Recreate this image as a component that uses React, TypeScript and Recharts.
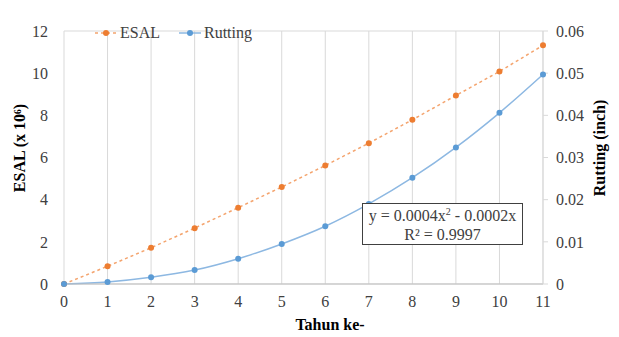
import {
  LineChart,
  Line,
  XAxis,
  YAxis,
  CartesianGrid,
  Legend,
  Label,
} from "recharts";

const years = [0, 1, 2, 3, 4, 5, 6, 7, 8, 9, 10, 11];
const esal = [0, 0.84, 1.72, 2.65, 3.62, 4.6, 5.62, 6.68, 7.79, 8.94, 10.08, 11.32];
const rutting = [0, 0.0005, 0.0016, 0.0033, 0.006, 0.0095, 0.0137, 0.019, 0.0252, 0.0324, 0.0406, 0.0497];
const leftTicks = [0, 2, 4, 6, 8, 10, 12];
const rightTicks = [0, 0.01, 0.02, 0.03, 0.04, 0.05, 0.06];

const data = years.map((x, i) => ({ x, esal: esal[i], rutting: rutting[i] }));

const FONT = "'Liberation Serif', 'Times New Roman', serif";
const ORANGE = "#ED7D31";
const BLUE = "#5B9BD5";

const tickStyle = { fontFamily: FONT, fontSize: 16, fill: "#404040" };

const LegendBox = () => (
  <div style={{ display: "flex", alignItems: "center", fontFamily: FONT, fontSize: 16, color: "#404040" }}>
    <svg width={22} height={10}>
      <line x1={0} y1={5} x2={22} y2={5} stroke="#F4A46E" strokeWidth={1.5} strokeDasharray="3 3" />
      <circle cx={11} cy={5} r={3} fill={ORANGE} />
    </svg>
    <span style={{ marginLeft: 3, marginRight: 19 }}>ESAL</span>
    <svg width={22} height={10}>
      <line x1={0} y1={5} x2={22} y2={5} stroke="#8DB8E2" strokeWidth={1.5} />
      <circle cx={11} cy={5} r={3} fill={BLUE} />
    </svg>
    <span style={{ marginLeft: 3 }}>Rutting</span>
  </div>
);

const App = () => {
  return (
    <div style={{ position: "absolute", left: 0, top: 0, width: 619, height: 337, background: "#fff" }}>
      <LineChart width={619} height={337} data={data} margin={{ top: 13, right: 0, bottom: 0, left: 0 }}>
        <CartesianGrid stroke="#D9D9D9" />
        <XAxis
          dataKey="x"
          type="number"
          domain={[0, 11]}
          ticks={years}
          height={53}
          tick={tickStyle}
          tickLine={false}
          axisLine={{ stroke: "#BFBFBF" }}
          tickMargin={6}
        >
          <Label
            content={() => (
              <text x={330} y={330} textAnchor="middle" fontFamily={FONT} fontSize={16} fontWeight="bold" fill="#000">
                Tahun ke-
              </text>
            )}
          />
        </XAxis>
        <YAxis
          yAxisId="left"
          domain={[0, 12]}
          ticks={leftTicks}
          width={64}
          tick={tickStyle}
          tickLine={false}
          axisLine={false}
          tickMargin={10}
        >
          <Label
            content={() => (
              <text
                x={25}
                y={148}
                transform="rotate(-90 25 148)"
                textAnchor="middle"
                fontFamily={FONT}
                fontSize={16}
                fontWeight="bold"
                fill="#000"
              >
                ESAL (x 10⁶)
              </text>
            )}
          />
        </YAxis>
        <YAxis
          yAxisId="right"
          orientation="right"
          domain={[0, 0.06]}
          ticks={rightTicks}
          width={76}
          tick={tickStyle}
          tickLine={{ stroke: "#D9D9D9" }}
          tickSize={5}
          axisLine={{ stroke: "#D9D9D9" }}
          tickMargin={8}
        >
          <Label
            content={() => (
              <text
                x={605}
                y={148}
                transform="rotate(-90 605 148)"
                textAnchor="middle"
                fontFamily={FONT}
                fontSize={16}
                fontWeight="bold"
                fill="#000"
              >
                Rutting (inch)
              </text>
            )}
          />
        </YAxis>
        <Legend
          verticalAlign="top"
          content={() => <LegendBox />}
          wrapperStyle={{ top: 24, left: 95, width: "auto" }}
        />
        <Line
          yAxisId="left"
          dataKey="esal"
          type="linear"
          stroke="#F4A46E"
          strokeWidth={1.5}
          strokeDasharray="3 3"
          dot={{ r: 3, fill: ORANGE, stroke: ORANGE, strokeWidth: 0 }}
          isAnimationActive={false}
        />
        <Line
          yAxisId="right"
          dataKey="rutting"
          type="monotone"
          stroke="#8DB8E2"
          strokeWidth={1.5}
          dot={{ r: 3, fill: BLUE, stroke: BLUE, strokeWidth: 0 }}
          isAnimationActive={false}
        />
      </LineChart>
      <div
        style={{
          position: "absolute",
          left: 362,
          top: 203,
          width: 161,
          height: 42,
          border: "1px solid #404040",
          background: "#fff",
          fontFamily: FONT,
          fontSize: 16,
          color: "#404040",
          textAlign: "center",
          lineHeight: "19px",
          paddingTop: 2,
          boxSizing: "border-box",
        }}
      >
        <div>
          y = 0.0004x<sup style={{ fontSize: 10, lineHeight: 0 }}>2</sup> - 0.0002x
        </div>
        <div>R² = 0.9997</div>
      </div>
    </div>
  );
};

export default App;
